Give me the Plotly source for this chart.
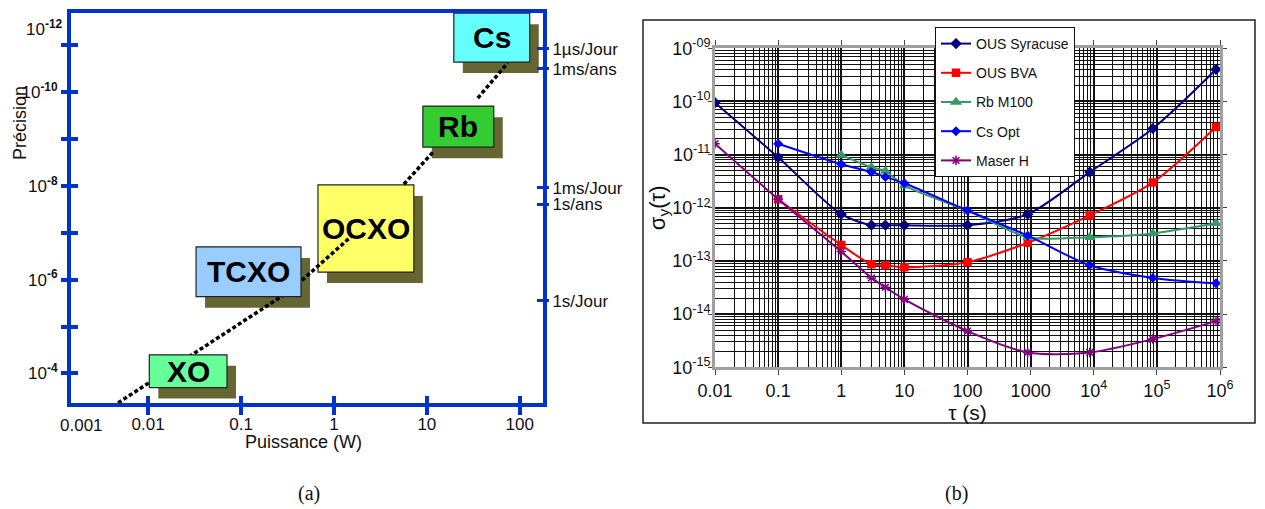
import math
import plotly.graph_objects as go

# ---------------- Panel (a) data ----------------
technologies = ["XO", "TCXO", "OCXO", "Rb", "Cs"]
power_min = [0.0103, 0.0328, 0.673, 9.06, 19.5]          # W
power_max = [0.0706, 0.442, 7.24, 52.5, 128.0]           # W
precision_best = [4.0e-5, 2.0e-7, 9.6e-9, 2.0e-10, 2.1e-12]
precision_worst = [2.0e-4, 2.3e-6, 6.9e-7, 1.5e-9, 2.3e-11]
box_fill = ["#66ff99", "#99ccff", "#ffff66", "#33cc33", "#66ffff"]

trend_power = [0.00475, 0.336, 1.56, None, 5.66, 11.9, None, 35.3, 74.3]
trend_precision = [4.24e-4, 1.74e-6, 1.17e-7, None, 9.25e-9, 1.82e-9, None, 1.35e-10, 2.4e-11]

power_ticks = [0.01, 0.1, 1, 10, 100]
power_labels = ["0.01", "0.1", "1", "10", "100"]
precision_ticks = [1e-11, 1e-10, 1e-9, 1e-8, 1e-7, 1e-6, 1e-5, 1e-4]
precision_labels = ["", "10<sup><b>-10</b></sup>", "", "10<sup><b>-8</b></sup>", "",
                    "10<sup><b>-6</b></sup>", "", "10<sup><b>-4</b></sup>"]
drift_ticks = [1.2e-11, 3.2e-11, 1.1e-8, 2.5e-8, 2.8e-6]
drift_labels = ["1µs/Jour", "1ms/ans", "1ms/Jour", "1s/ans", "1s/Jour"]

# ---------------- Panel (b) data ----------------
tau = [0.01, 0.1, 1, 3, 5, 10, 100, 900, 8640, 86400, 864000]
ous_syracuse = [9.5e-11, 8.9e-12, 7.6e-13, 4.7e-13, 4.7e-13, 4.7e-13, 4.7e-13, 7.6e-13, 4.7e-12, 3.1e-11, 4.0e-10]
ous_bva = [None, 1.45e-12, 2.0e-13, 8.7e-14, 8.3e-14, 7.6e-14, 9.5e-14, 2.2e-13, 7.2e-13, 3.0e-12, 3.3e-11]
rb_m100 = [None, None, 9.8e-12, 5.8e-12, 4.9e-12, 2.6e-12, 8.9e-13, 2.8e-13, 2.8e-13, 3.3e-13, 5.1e-13]
cs_opt = [None, 1.6e-11, 6.6e-12, 4.7e-12, 3.8e-12, 2.9e-12, 8.9e-13, 3.0e-13, 8.3e-14, 4.8e-14, 3.8e-14]
maser_h = [1.6e-11, 1.45e-12, 1.5e-13, 4.8e-14, 3.2e-14, 1.9e-14, 4.8e-15, 1.9e-15, 1.9e-15, 3.4e-15, 7.4e-15]

tau_ticks = [0.01, 0.1, 1, 10, 100, 1000, 1e4, 1e5, 1e6]
tau_labels = ["0.01", "0.1", "1", "10", "100", "1000", "10<sup>4</sup>", "10<sup>5</sup>", "10<sup>6</sup>"]
sigma_ticks = [1e-15, 1e-14, 1e-13, 1e-12, 1e-11, 1e-10, 1e-9]
sigma_labels = ["10<sup>-15</sup>", "10<sup>-14</sup>", "10<sup>-13</sup>", "10<sup>-12</sup>",
                "10<sup>-11</sup>", "10<sup>-10</sup>", "10<sup>-09</sup>"]

# ---------------- geometry / style ----------------
W, H = 1265, 509
def px(x):
    return x / W
def py(y):
    return 1 - y / H

BLUE = "#0033cc"
SANS = "Liberation Sans, Arial, sans-serif"
SERIF = "Liberation Serif, Times New Roman, serif"

xa_range = [-2.83, 2.25]
ya_range = [-3.37, -11.69]   # reversed: small precision values at top

fig = go.Figure()

# dotted trend line of panel (a)
fig.add_trace(go.Scatter(x=trend_power, y=trend_precision, mode="lines",
                         line=dict(color="black", width=3.5, dash="4px,2.5px"),
                         xaxis="x", yaxis="y", showlegend=False, hoverinfo="skip"))
# helper traces for overlay axes (crossing ticks)
for xa, ya in [("x3", "y"), ("x", "y3"), ("x", "y4"), ("x", "y5")]:
    fig.add_trace(go.Scatter(x=[None], y=[None], xaxis=xa, yaxis=ya,
                             showlegend=False, hoverinfo="skip"))

# shapes: shadows and boxes
shapes = []
SHX, SHY = 1.25, 1.72
for i, name in enumerate(technologies):
    shapes.append(dict(type="rect", xref="x", yref="y",
                       x0=power_min[i] * SHX, x1=power_max[i] * SHX,
                       y0=precision_best[i] * SHY, y1=precision_worst[i] * SHY,
                       fillcolor="#666633", line=dict(width=0), layer="below"))
for i, name in enumerate(technologies):
    shapes.append(dict(type="rect", xref="x", yref="y",
                       x0=power_min[i], x1=power_max[i],
                       y0=precision_best[i], y1=precision_worst[i],
                       fillcolor=box_fill[i], line=dict(color="#222222", width=1.2),
                       layer="below" if name == "OCXO" else "above"))
# frame of panel (b)
shapes.append(dict(type="rect", xref="paper", yref="paper",
                   x0=px(643), x1=px(1255), y0=py(423), y1=py(20),
                   line=dict(color="#222222", width=1.5), fillcolor="rgba(0,0,0,0)", layer="below"))

def ann(x, y, text, size, family=SANS, **kw):
    d = dict(x=px(x), y=py(y), xref="paper", yref="paper", text=text, showarrow=False,
             xanchor="center", yanchor="middle", font=dict(family=family, size=size, color="#111"))
    d.update(kw)
    return d

annotations = []
for i, name in enumerate(technologies):
    cx = (math.log10(power_min[i]) + math.log10(power_max[i])) / 2
    cy = (math.log10(precision_best[i]) + math.log10(precision_worst[i])) / 2
    annotations.append(dict(x=cx, y=cy, xref="x", yref="y", text="<b>%s</b>" % name,
                            xanchor="center", yanchor="middle",
                            showarrow=False, font=dict(family=SANS, size=30, color="black")))
annotations += [
    ann(64, 28, "10<sup><b>-12</b></sup>", 17, xanchor="right"),
    ann(81, 425, "0.001", 17),
    ann(20, 123, "Précision", 18, textangle=-90),
    ann(303, 442, "Puissance (W)", 18),
    ann(309, 493, "(a)", 20, family=SERIF),
    ann(956, 493, "(b)", 20, family=SERIF),
]

# ---------------- Panel (b) traces ----------------
series = [
    ("OUS Syracuse", ous_syracuse, "#000080", "diamond", 7),
    ("OUS BVA", ous_bva, "#ff0000", "square", 7),
    ("Rb M100", rb_m100, "#339966", "triangle-up", 8),
    ("Cs Opt", cs_opt, "#0000ff", "diamond", 6),
    ("Maser H", maser_h, "#800080", "asterisk-open", 8),
]
for name, vals, col, sym, size in series:
    fig.add_trace(go.Scatter(
        x=tau, y=vals, name=name, mode="lines+markers", xaxis="x2", yaxis="y2",
        line=dict(color=col, width=2, shape="spline", smoothing=0.8),
        marker=dict(symbol=sym, size=size, color=col, line=dict(color=col, width=1.5)),
        legendgroup=name))

dom_ax = [px(71), px(543)]
dom_ay = [py(403), py(12.7)]
common_a = dict(type="log", showgrid=False, zeroline=False, automargin=False)

fig.update_layout(
    template="none",
    width=W, height=H, margin=dict(l=0, r=0, t=0, b=0, autoexpand=False),
    paper_bgcolor="white", plot_bgcolor="rgba(0,0,0,0)",
    font=dict(family=SANS, color="black"),
    shapes=shapes, annotations=annotations,
    xaxis=dict(**common_a, domain=dom_ax, range=xa_range, anchor="y",
               tickmode="array", tickvals=power_ticks, ticktext=power_labels,
               ticks="outside", ticklen=8, tickwidth=4, tickcolor=BLUE,
               showline=True, linewidth=4, linecolor=BLUE, mirror=True,
               ticklabelstandoff=-5,
               tickfont=dict(family=SANS, size=17, color="#111")),
    xaxis3=dict(**common_a, domain=dom_ax, range=xa_range, anchor="y", overlaying="x",
                side="bottom", tickmode="array", tickvals=power_ticks, showticklabels=False,
                ticks="inside", ticklen=7, tickwidth=4, tickcolor=BLUE, showline=False),
    yaxis=dict(**common_a, domain=dom_ay, range=ya_range, anchor="x",
               tickmode="array", tickvals=precision_ticks, ticktext=precision_labels,
               ticks="outside", ticklen=6, tickwidth=4, tickcolor=BLUE,
               showline=True, linewidth=4, linecolor=BLUE, mirror=True,
               tickfont=dict(family=SANS, size=17, color="#111")),
    yaxis5=dict(**common_a, domain=dom_ay, range=ya_range, anchor="x", overlaying="y",
                side="left", tickmode="array", tickvals=precision_ticks, showticklabels=False,
                ticks="inside", ticklen=7, tickwidth=4, tickcolor=BLUE, showline=False),
    yaxis3=dict(**common_a, domain=dom_ay, range=ya_range, anchor="x", overlaying="y",
                side="right", tickmode="array", tickvals=drift_ticks, ticktext=drift_labels,
                ticks="outside", ticklen=5, tickwidth=3, tickcolor=BLUE, showline=False,
                tickfont=dict(family=SANS, size=17, color="#111")),
    yaxis4=dict(**common_a, domain=dom_ay, range=ya_range, anchor="x", overlaying="y",
                side="right", tickmode="array", tickvals=drift_ticks, showticklabels=False,
                ticks="inside", ticklen=6, tickwidth=3, tickcolor=BLUE, showline=False),
    xaxis2=dict(type="log", automargin=False, domain=[px(715), px(1220)], range=[-2, 6], anchor="y2",
                tickmode="array", tickvals=tau_ticks, ticktext=tau_labels,
                ticks="outside", ticklen=5, tickcolor="#444",
                showline=True, linewidth=3, linecolor="#a0a0a0", mirror="ticks",
                showgrid=True, gridcolor="#111", gridwidth=2, zeroline=False,
                minor=dict(dtick="D1", showgrid=True, gridcolor="#111", gridwidth=1, ticks=""),
                tickfont=dict(family=SANS, size=18, color="#111"),
                title=dict(text="τ (s)", font=dict(family=SANS, size=21, color="#111"), standoff=0)),
    yaxis2=dict(type="log", automargin=False, domain=[py(367.3), py(48.3)], range=[-15, -9], anchor="x2",
                tickmode="array", tickvals=sigma_ticks, ticktext=sigma_labels,
                ticks="outside", ticklen=4, tickcolor="#444",
                showline=True, linewidth=3, linecolor="#a0a0a0", mirror="ticks",
                showgrid=True, gridcolor="#111", gridwidth=2, zeroline=False,
                minor=dict(dtick="D1", showgrid=True, gridcolor="#111", gridwidth=1, ticks=""),
                ticklabelstandoff=-6,
                tickfont=dict(family=SANS, size=18, color="#111"),
                title=dict(text="σ<sub>y</sub>(τ)", font=dict(family=SANS, size=22, color="#111"), standoff=0)),
    legend=dict(x=px(935), y=py(27), xanchor="left", yanchor="top",
                bgcolor="white", bordercolor="#111", borderwidth=1,
                font=dict(family=SANS, size=14, color="#111"),
                tracegroupgap=8, itemwidth=30),
    showlegend=True,
)

fig.write_html("out.html", config={"displayModeBar": False},
               post_script="document.body.style.margin='0px';")
